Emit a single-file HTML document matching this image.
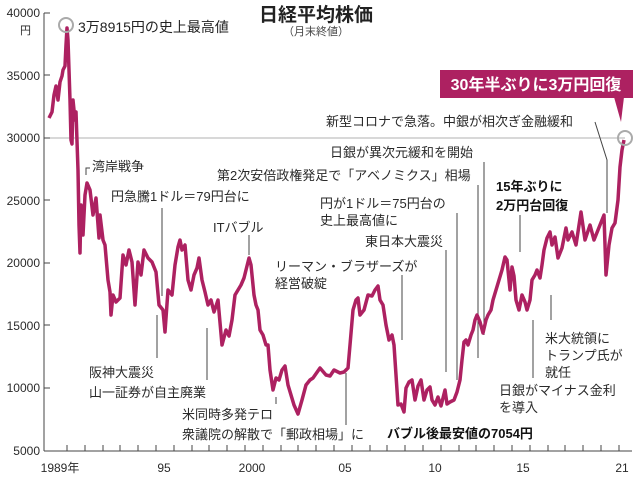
<!DOCTYPE html>
<html><head><meta charset="utf-8"><style>
html,body{margin:0;padding:0;background:#fff;}
svg{display:block;font-family:"Liberation Sans","Noto Sans CJK JP",sans-serif;}
.t{font-size:13px;fill:#2a2a2a;}
.a{font-size:12px;fill:#2a2a2a;}
.b{font-size:13px;fill:#111;font-weight:bold;}
.l{stroke:#444;stroke-width:1;fill:none;}
</style></head><body>
<svg width="638" height="477" viewBox="0 0 638 477">
<line x1="44" y1="13" x2="44" y2="451" stroke="#444" stroke-width="1"/>
<line x1="44" y1="451" x2="632" y2="451" stroke="#444" stroke-width="1"/>
<line x1="44" y1="138" x2="625" y2="138" stroke="#999" stroke-width="0.8"/>
<g stroke="#444" stroke-width="1">
<line x1="44" y1="13" x2="50" y2="13"/><line x1="44" y1="75" x2="50" y2="75"/><line x1="44" y1="138" x2="50" y2="138"/><line x1="44" y1="200" x2="50" y2="200"/><line x1="44" y1="263" x2="50" y2="263"/><line x1="44" y1="325" x2="50" y2="325"/><line x1="44" y1="388" x2="50" y2="388"/>
</g>
<g class="a" text-anchor="end">
<text x="40" y="17">40000</text><text x="40" y="80">35000</text><text x="40" y="142">30000</text><text x="40" y="205">25000</text><text x="40" y="267">20000</text><text x="40" y="330">15000</text><text x="40" y="392">10000</text><text x="40" y="455">5000</text>
</g>
<text class="a" x="20" y="34" style="font-size:11px">円</text>
<g class="a" text-anchor="middle">
<text x="60" y="472">1989年</text><text x="164" y="472">95</text><text x="252" y="472">2000</text><text x="345" y="472">05</text><text x="435" y="472">10</text><text x="523" y="472">15</text><text x="622" y="472">21</text>
</g>
<text x="316" y="21" text-anchor="middle" style="font-size:19px;font-weight:bold;fill:#222">日経平均株価</text>
<text x="316" y="35" text-anchor="middle" style="font-size:11px;fill:#444">（月末終値）</text>
<g class="l">
<path d="M86,175 V168 H90"/>
<line x1="162" y1="208" x2="162" y2="296"/>
<line x1="249" y1="235" x2="249" y2="255"/>
<line x1="478" y1="185" x2="478" y2="358"/>
<line x1="484" y1="162" x2="484" y2="335"/>
<line x1="457" y1="213" x2="457" y2="380"/>
<line x1="446" y1="250" x2="446" y2="372"/>
<line x1="402" y1="275" x2="402" y2="340"/>
<path d="M595,122 L607,160 V213"/>
<line x1="520" y1="215" x2="520" y2="252"/>
<line x1="551" y1="295" x2="551" y2="320"/>
<line x1="533" y1="320" x2="533" y2="378"/>
<line x1="157" y1="315" x2="157" y2="358"/>
<line x1="207" y1="328" x2="207" y2="380"/>
<line x1="276" y1="397" x2="276" y2="404"/>
<line x1="346" y1="373" x2="346" y2="425"/>
</g>
<polyline fill="none" stroke="#ad2161" stroke-width="3.5" stroke-linejoin="round" points="49,118 52,112 54,95 56,86 58,100 60,82 62,76 63,70 65,66 66,45 67,28 68,40 70,100 71,140 72,144 73,100 75,120 76,112 78,170 79,225 80,253 81,205 83,235 85,195 87,183 90,190 93,215 96,198 99,238 100,215 103,240 105,245 108,280 110,292 111,315 113,295 116,302 120,298 123,255 126,265 129,250 132,262 135,305 138,262 141,275 144,250 148,258 152,262 156,272 159,305 163,310 165,332 168,290 172,295 175,265 178,247 180,240 182,250 185,245 188,280 191,290 194,275 197,268 199,258 202,280 205,292 208,305 211,300 214,312 218,300 222,345 226,330 229,336 232,320 235,295 238,290 241,285 244,278 248,262 249,258 251,265 254,295 256,305 258,310 260,330 263,335 266,345 268,345 270,370 273,390 276,378 279,380 282,370 285,366 288,385 291,395 294,405 298,414 302,400 306,385 310,380 313,378 320,368 326,375 330,376 334,370 340,373 344,372 348,368 350,345 353,310 356,300 358,298 360,315 364,310 368,295 372,296 375,290 378,286 380,300 383,305 386,325 389,340 392,335 394,345 396,375 398,405 401,404 404,412 406,388 409,382 412,380 415,400 418,386 421,380 424,400 427,390 430,387 432,400 435,405 438,397 441,406 445,390 447,404 450,402 454,400 457,392 460,380 462,360 464,342 466,340 468,345 471,335 473,330 475,320 477,315 480,322 483,333 486,320 488,315 491,310 493,300 496,290 499,280 502,270 505,257 507,260 510,290 512,267 514,276 516,300 519,310 522,295 525,302 527,310 530,300 532,280 535,275 537,270 540,278 542,265 544,250 547,238 550,232 552,245 555,237 558,258 562,248 566,228 568,240 572,232 576,245 581,212 585,240 590,225 594,240 598,230 604,215 606,275 609,245 612,228 615,223 618,200 620,167 622,150 624,140"/>
<circle cx="66" cy="25" r="7" fill="none" stroke="#aaa" stroke-width="2"/>
<circle cx="625" cy="138" r="7" fill="none" stroke="#aaa" stroke-width="2"/>
<rect x="440" y="70" width="193" height="28" fill="#ad2161"/>
<polygon points="614,97 624,97 621,122" fill="#ad2161"/>
<text x="536" y="90" text-anchor="middle" style="font-size:16px;font-weight:bold;fill:#fff">30年半ぶりに3万円回復</text>
<text x="78" y="32" style="font-size:14px;fill:#222">3万8915円の史上最高値</text>
<text class="t" x="92" y="171">湾岸戦争</text>
<text class="t" x="111" y="201">円急騰1ドル＝79円台に</text>
<text class="t" x="213" y="232">ITバブル</text>
<text class="t" x="217" y="180">第2次安倍政権発足で「アベノミクス」相場</text>
<text class="t" x="330" y="157">日銀が異次元緩和を開始</text>
<text class="t" x="320" y="208">円が1ドル＝75円台の</text>
<text class="t" x="320" y="225">史上最高値に</text>
<text class="t" x="365" y="246">東日本大震災</text>
<text class="t" x="275" y="271">リーマン・ブラザーズが</text>
<text class="t" x="275" y="288">経営破綻</text>
<text class="t" x="326" y="126">新型コロナで急落。中銀が相次ぎ金融緩和</text>
<text class="b" x="496" y="191">15年ぶりに</text>
<text class="b" x="496" y="210">2万円台回復</text>
<text class="t" x="545" y="343">米大統領に</text>
<text class="t" x="545" y="360">トランプ氏が</text>
<text class="t" x="545" y="377">就任</text>
<text class="t" x="499" y="395">日銀がマイナス金利</text>
<text class="t" x="499" y="412">を導入</text>
<text class="b" x="387" y="438">バブル後最安値の7054円</text>
<text class="t" x="89" y="377">阪神大震災</text>
<text class="t" x="89" y="397">山一証券が自主廃業</text>
<text class="t" x="182" y="419">米同時多発テロ</text>
<text class="t" x="182" y="439">衆議院の解散で「郵政相場」に</text>
<g stroke="#444" stroke-width="1">
<line x1="67" y1="451" x2="67" y2="445"/><line x1="85" y1="451" x2="85" y2="445"/><line x1="103" y1="451" x2="103" y2="445"/><line x1="120" y1="451" x2="120" y2="445"/><line x1="138" y1="451" x2="138" y2="445"/><line x1="156" y1="451" x2="156" y2="445"/><line x1="174" y1="451" x2="174" y2="445"/><line x1="192" y1="451" x2="192" y2="445"/><line x1="209" y1="451" x2="209" y2="445"/><line x1="227" y1="451" x2="227" y2="445"/><line x1="245" y1="451" x2="245" y2="445"/><line x1="263" y1="451" x2="263" y2="445"/><line x1="281" y1="451" x2="281" y2="445"/><line x1="298" y1="451" x2="298" y2="445"/><line x1="316" y1="451" x2="316" y2="445"/><line x1="334" y1="451" x2="334" y2="445"/><line x1="352" y1="451" x2="352" y2="445"/><line x1="370" y1="451" x2="370" y2="445"/><line x1="387" y1="451" x2="387" y2="445"/><line x1="405" y1="451" x2="405" y2="445"/><line x1="423" y1="451" x2="423" y2="445"/><line x1="441" y1="451" x2="441" y2="445"/><line x1="459" y1="451" x2="459" y2="445"/><line x1="476" y1="451" x2="476" y2="445"/><line x1="494" y1="451" x2="494" y2="445"/><line x1="512" y1="451" x2="512" y2="445"/><line x1="530" y1="451" x2="530" y2="445"/><line x1="548" y1="451" x2="548" y2="445"/><line x1="565" y1="451" x2="565" y2="445"/><line x1="583" y1="451" x2="583" y2="445"/><line x1="601" y1="451" x2="601" y2="445"/><line x1="619" y1="451" x2="619" y2="445"/>
</g>
</svg>
</body></html>
